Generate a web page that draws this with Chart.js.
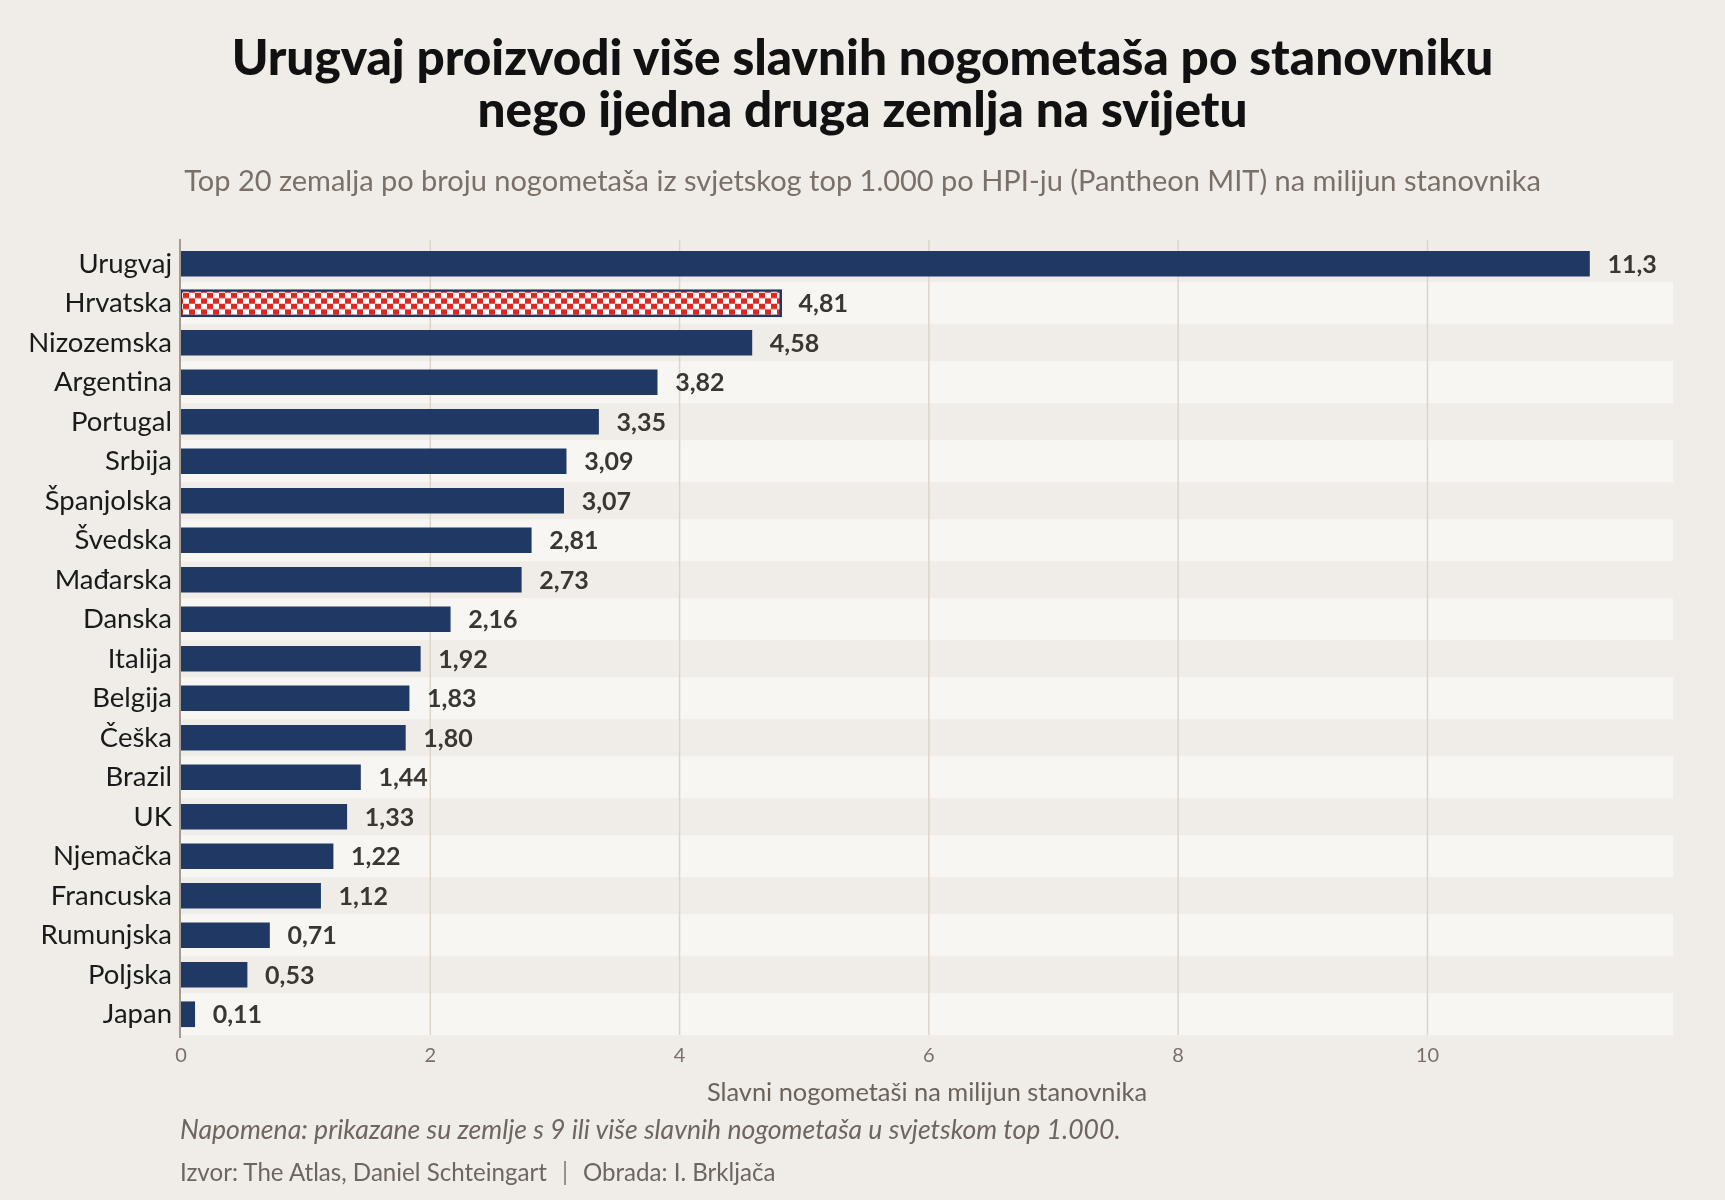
<!DOCTYPE html>
<html><head><meta charset="utf-8">
<script src="https://cdn.jsdelivr.net/npm/chart.js@4.4.0/dist/chart.umd.min.js"></script>
<style>
html,body{margin:0;padding:0;background:#f0ede8;}
#wrap{position:relative;width:1725px;height:1200px;overflow:hidden;background:#f0ede8;}
#c{position:absolute;left:0;top:0;}
.t{position:absolute;left:0;width:1725px;text-align:center;font-family:Lato,"Noto Sans",sans-serif;margin:0;white-space:nowrap;}
#title{top:30px;font-size:49.5px;font-weight:900;line-height:52px;color:#111;}
#subtitle{top:163px;font-size:29px;line-height:34px;color:#7a7068;}
.f{position:absolute;left:180px;font-family:Lato,"Noto Sans",sans-serif;margin:0;white-space:nowrap;color:#6e665e;}
#note{top:1114px;font-size:26.6px;line-height:30px;font-style:italic;}
#source{top:1157px;font-size:24.1px;line-height:30px;}
#source .sep{display:inline-block;margin:0 15px;color:#8a8178;}
</style></head>
<body>
<div id="wrap">
<canvas id="c" width="1725" height="1200"></canvas>
<h1 class="t" id="title">Urugvaj proizvodi više slavnih nogometaša po stanovniku<br>nego ijedna druga zemlja na svijetu</h1>
<p class="t" id="subtitle">Top 20 zemalja po broju nogometaša iz svjetskog top 1.000 po HPI-ju (Pantheon MIT) na milijun stanovnika</p>
<p class="f" id="note">Napomena: prikazane su zemlje s 9 ili više slavnih nogometaša u svjetskom top 1.000.</p>
<p class="f" id="source">Izvor: The Atlas, Daniel Schteingart<span class="sep">|</span>Obrada: I. Brkljača</p>
</div>
<script>
const countries = ['Urugvaj','Hrvatska','Nizozemska','Argentina','Portugal','Srbija','Španjolska','Švedska','Mađarska','Danska','Italija','Belgija','Češka','Brazil','UK','Njemačka','Francuska','Rumunjska','Poljska','Japan'];
const values = [11.3,4.81,4.58,3.82,3.35,3.09,3.07,2.81,2.73,2.16,1.92,1.83,1.80,1.44,1.33,1.22,1.12,0.71,0.53,0.11];
const highlightCountry = 'Hrvatska';
const xTicks = [0,2,4,6,8,10];
const xMax = 11.97;
const axisTitle = 'Slavni nogometaši na milijun stanovnika';

const NAVY = '#203864';
const fmt = v => (v >= 10 ? v.toFixed(1) : v.toFixed(2)).replace('.', ',');

// checkerboard pattern
const pc = document.createElement('canvas');
pc.width = 12; pc.height = 11;
const pctx = pc.getContext('2d');
pctx.fillStyle = '#ffffff'; pctx.fillRect(0,0,12,11);
pctx.fillStyle = '#dc2820';
pctx.fillRect(0,0,6,5.5); pctx.fillRect(6,5.5,6,5.5);
const ctx = document.getElementById('c').getContext('2d');
const checker = ctx.createPattern(pc, 'repeat');
checker.setTransform(new DOMMatrix().translate(183, 292.7));

const isHi = c => countries[c.dataIndex] === highlightCountry;

const bgPlugin = {
  id: 'bg',
  beforeDatasetsDraw(chart) {
    const {ctx, chartArea: a, scales: {x, y}} = chart;
    ctx.save();
    ctx.fillStyle = '#f7f6f2';
    countries.forEach((c, i) => {
      if (i % 2 === 1) {
        const cy = y.getPixelForValue(i);
        ctx.fillRect(a.left, cy - 21, a.right - a.left, 42);
      }
    });
    ctx.strokeStyle = '#ddd4c9';
    ctx.lineWidth = 1.5;
    x.ticks.forEach(t => {
      if (t.value === 0) return;
      const px = x.getPixelForValue(t.value);
      ctx.beginPath(); ctx.moveTo(px, a.top - 4); ctx.lineTo(px, a.bottom + 1); ctx.stroke();
    });
    ctx.strokeStyle = '#a39a91';
    ctx.lineWidth = 2;
    ctx.beginPath(); ctx.moveTo(a.left - 1, a.top - 5); ctx.lineTo(a.left - 1, a.bottom + 4); ctx.stroke();
    ctx.restore();
  },
  afterDatasetsDraw(chart) {
    const {ctx} = chart;
    const meta = chart.getDatasetMeta(0);
    ctx.save();
    ctx.font = 'bold 25px Lato, "Noto Sans", sans-serif';
    ctx.fillStyle = '#3a3733';
    ctx.textBaseline = 'middle';
    ctx.textAlign = 'left';
    meta.data.forEach((bar, i) => {
      ctx.fillText(fmt(values[i]), bar.x + 18, bar.y + 1);
    });
    ctx.restore();
  }
};

new Chart(ctx, {
  type: 'bar',
  data: {
    labels: countries,
    datasets: [{
      data: values,
      backgroundColor: c => isHi(c) ? checker : NAVY,
      borderColor: NAVY,
      borderWidth: c => isHi(c) ? 2.6 : 0,
      borderSkipped: false,
      inflateAmount: c => isHi(c) ? 1.5 : 0.33,
      categoryPercentage: 1,
      barPercentage: 0.633
    }]
  },
  options: {
    indexAxis: 'y',
    responsive: false,
    animation: false,
    devicePixelRatio: 1,
    layout: {padding: {top: 244, right: 52, left: 0, bottom: 0}},
    plugins: {legend: {display: false}, tooltip: {enabled: false}, title: {display: false}},
    scales: {
      y: {
        type: 'category',
        afterFit: s => { s.width = 181; },
        grid: {display: false, drawTicks: false},
        border: {display: false},
        ticks: {color: '#1a1a1a', padding: 9, font: {family: 'Lato', size: 27.5}}
      },
      x: {
        type: 'linear',
        min: 0,
        max: xMax,
        afterBuildTicks: s => { s.ticks = xTicks.map(v => ({value: v})); },
        afterFit: s => { s.height = 166; },
        grid: {display: false, drawTicks: false},
        border: {display: false},
        ticks: {color: '#7a7068', padding: 10, font: {family: 'Lato', size: 20}, callback: v => String(v)},
        title: {display: true, text: axisTitle, color: '#6b625a', font: {family: 'Lato', size: 25.4}, padding: {top: 0, bottom: 92}}
      }
    }
  },
  plugins: [bgPlugin]
});
</script>
</body></html>
